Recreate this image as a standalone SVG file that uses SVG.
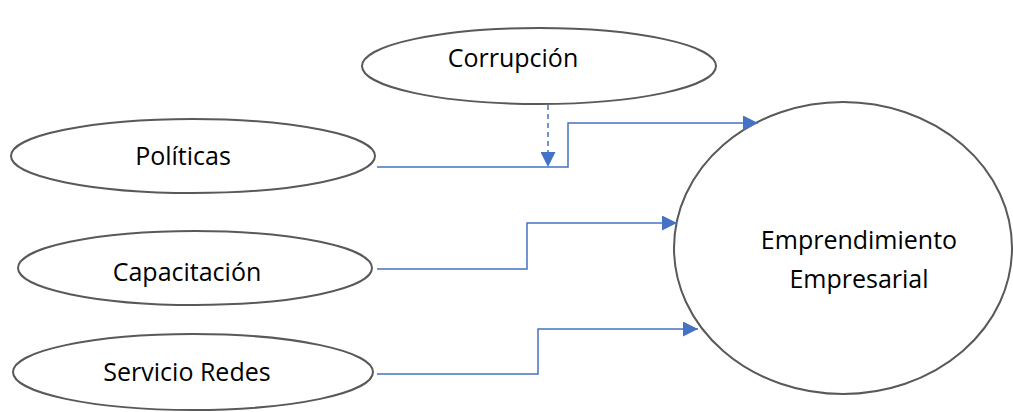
<svg xmlns="http://www.w3.org/2000/svg" width="1013" height="412" viewBox="0 0 1013 412">
<defs>
<style>
.node ellipse{fill:#fff;stroke:#595959;stroke-width:2}
.node text{font-family:"Open Sans","Liberation Sans",Arial,sans-serif;font-size:25px;fill:#000;text-anchor:middle}
.conn{fill:none;stroke:#4472C4;stroke-width:1.5}
.dash{stroke-dasharray:5,4}
</style>
<marker id="arrL" viewBox="0 0 10 10" refX="10" refY="5" markerWidth="15" markerHeight="15" markerUnits="userSpaceOnUse" orient="auto">
<path d="M0,0 L10,5 L0,10 z" fill="#4472C4"/>
</marker>
</defs>
<rect width="1013" height="412" fill="#fff"/>
<g id="corrupcion" class="node">
<ellipse cx="539" cy="66" rx="177" ry="38"/>
<text x="513" y="67">Corrupción</text>
</g>
<g id="politicas" class="node">
<ellipse cx="193" cy="156" rx="182" ry="37"/>
<text x="183" y="165">Políticas</text>
</g>
<g id="capacitacion" class="node">
<ellipse cx="195" cy="268" rx="177" ry="37"/>
<text x="187" y="281">Capacitación</text>
</g>
<g id="servicio" class="node">
<ellipse cx="193" cy="372" rx="180" ry="38"/>
<text x="187" y="381">Servicio Redes</text>
</g>
<g id="emprendimiento" class="node">
<ellipse cx="843" cy="248" rx="169" ry="146"/>
<text x="859" y="249">Emprendimiento</text>
<text x="859" y="288">Empresarial</text>
</g>
<g id="connectors">
<path class="conn dash" d="M548,105 V167" marker-end="url(#arrL)"/>
<path class="conn" d="M377,167 H568 V123 H758" marker-end="url(#arrL)"/>
<path class="conn" d="M377,269 H527 V223 H677" marker-end="url(#arrL)"/>
<path class="conn" d="M377,374 H538 V329 H698" marker-end="url(#arrL)"/>
</g>
</svg>
